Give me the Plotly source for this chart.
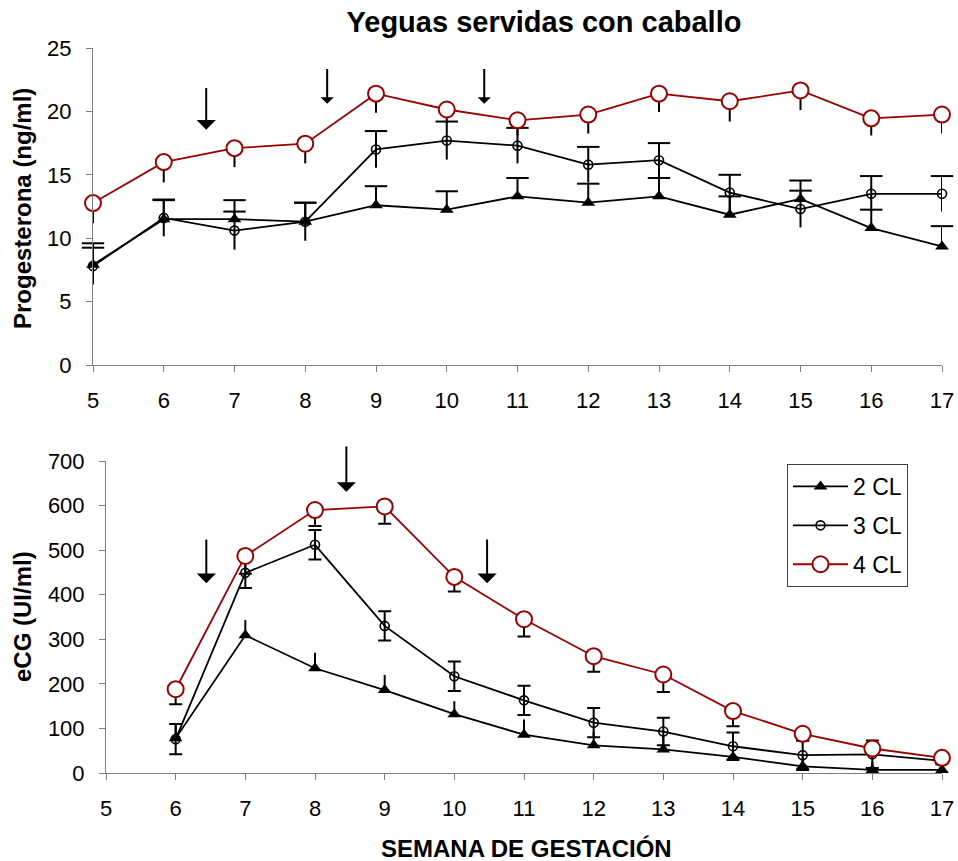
import plotly.graph_objects as go

# Weeks of gestation
weeks_p4 = [5, 6, 7, 8, 9, 10, 11, 12, 13, 14, 15, 16, 17]
weeks_ecg = [6, 7, 8, 9, 10, 11, 12, 13, 14, 15, 16, 17]

# Progesterone (ng/ml), mean and SEM per group
prog_2cl = [7.9, 11.5, 11.5, 11.3, 12.6, 12.25, 13.3, 12.8, 13.3, 11.85, 13.1, 10.8, 9.35]
prog_2cl_err = [1.7, 1.5, 1.5, 1.5, 1.5, 1.45, 1.45, 1.5, 1.45, 1.45, 1.45, 1.45, 1.6]
prog_3cl = [7.8, 11.6, 10.6, 11.3, 17.0, 17.7, 17.3, 15.8, 16.15, 13.6, 12.3, 13.5, 13.5]
prog_3cl_err = [1.45, 1.45, 1.5, 1.5, 1.45, 1.5, 1.4, 1.4, 1.35, 1.4, 1.45, 1.4, 1.4]
prog_4cl = [12.77, 16.0, 17.1, 17.45, 21.4, 20.15, 19.3, 19.75, 21.4, 20.8, 21.65, 19.45, 19.75]
prog_4cl_err = [1.6, 1.6, 1.5, 1.55, 1.5, 1.1, 1.2, 1.5, 1.45, 1.6, 1.55, 1.35, 1.5]

# eCG (UI/ml), mean and SEM per group
ecg_2cl = [78, 309, 235, 186, 132, 86, 62, 53, 36, 15, 7, 7]
ecg_2cl_err = [30, 34, 35, 34, 29, 34, 30, 28, 25, 20, 18, 18]
ecg_3cl = [76, 449, 512, 330, 217, 163, 113, 93, 60, 40, 42, 27]
ecg_3cl_err = [34, 34, 33, 33, 33, 33, 33, 31, 31, 33, 31, 8]
ecg_4cl = [188, 487, 590, 598, 440, 345, 262, 221, 139, 88, 55, 34]
ecg_4cl_err = [34, 40, 36, 39, 33, 39, 35, 39, 34, 15, 12, 6]

# Arrow markers: week position, tail value, tip value, head size
prog_arrows = [(6.6, 21.96, 18.56, 1.6), (8.31, 23.46, 20.6, 1.1), (10.53, 23.46, 20.6, 1.1)]
ecg_arrows = [(6.44, 527, 426, 1.6), (8.45, 736, 631, 1.6), (10.47, 527, 426, 1.6)]

RED = "#990000"
BLACK = "#000000"
FONT = "Liberation Sans, Arial, sans-serif"

styles = {
    "2 CL": dict(color=BLACK, marker=dict(symbol="triangle-up", size=12, color=BLACK,
                                          line=dict(width=0))),
    "3 CL": dict(color=BLACK, marker=dict(symbol="circle-open", size=9, color=BLACK,
                                          line=dict(width=1.6))),
    "4 CL": dict(color=RED, marker=dict(symbol="circle", size=16, color="white",
                                        line=dict(width=2, color=RED))),
}

fig = go.Figure()


def add_caps(x, y, err, sign, xa, ya, width):
    fig.add_trace(go.Scatter(
        x=x, y=[v + sign * e for v, e in zip(y, err)],
        mode="markers", xaxis=xa, yaxis=ya, showlegend=False, hoverinfo="skip",
        cliponaxis=False,
        marker=dict(symbol="line-ew", size=width, line=dict(width=2, color=BLACK)),
    ))


def add_series(name, x, y, plus, minus, xa, ya, cap_w, legend):
    st = styles[name]
    fig.add_trace(go.Scatter(
        x=x, y=y, name=name, mode="lines+markers", xaxis=xa, yaxis=ya,
        showlegend=legend, legendgroup=name, cliponaxis=False,
        line=dict(color=st["color"], width=1.8),
        marker=st["marker"],
        error_y=dict(type="data", symmetric=False, array=plus, arrayminus=minus,
                     width=cap_w, thickness=2, color=BLACK),
    ))


zeros_p = [0] * len(weeks_p4)
zeros_e = [0] * len(weeks_ecg)

# Progesterone panel: upper bars capped for 2 CL / 3 CL
add_caps(weeks_p4, prog_2cl, prog_2cl_err, 1, "x", "y", 16)
add_caps(weeks_p4, prog_3cl, prog_3cl_err, 1, "x", "y", 16)
add_series("2 CL", weeks_p4, prog_2cl, prog_2cl_err, zeros_p, "x", "y", 0, False)
add_series("3 CL", weeks_p4, prog_3cl, prog_3cl_err, prog_3cl_err, "x", "y", 0, False)
add_series("4 CL", weeks_p4, prog_4cl, zeros_p, prog_4cl_err, "x", "y", 0, False)

# eCG panel
add_series("2 CL", weeks_ecg, ecg_2cl, ecg_2cl_err, zeros_e, "x2", "y2", 0, True)
add_series("3 CL", weeks_ecg, ecg_3cl, ecg_3cl_err, ecg_3cl_err, "x2", "y2", 6.5, True)
add_series("4 CL", weeks_ecg, ecg_4cl, zeros_e, ecg_4cl_err, "x2", "y2", 6.5, True)

W, H = 958, 861

axis_common = dict(
    showline=True, linecolor="#7f7f7f", linewidth=1, ticks="outside", ticklen=6,
    tickcolor="#7f7f7f", tickwidth=1, showgrid=False, zeroline=False,
    automargin=False, ticklabelstandoff=10,
    tickfont=dict(family=FONT, size=22, color=BLACK),
)

annotations = []
for xa, ya, arrows in (("x", "y", prog_arrows), ("x2", "y2", ecg_arrows)):
    for wx, tail, tip, size in arrows:
        annotations.append(dict(
            x=wx, y=tip, ax=wx, ay=tail, xref=xa, yref=ya, axref=xa, ayref=ya,
            text="", showarrow=True, arrowhead=1, arrowsize=size, arrowwidth=2,
            arrowcolor=BLACK,
        ))

title_font = dict(family=FONT, size=24, color=BLACK)
annotations += [
    dict(text="<b>Progesterona (ng/ml)</b>", x=22 / W, y=1 - 209 / H, xref="paper",
         yref="paper", xanchor="center", yanchor="middle", showarrow=False,
         textangle=-90, font=title_font),
    dict(text="<b>eCG (UI/ml)</b>", x=22 / W, y=1 - 617 / H, xref="paper",
         yref="paper", xanchor="center", yanchor="middle", showarrow=False,
         textangle=-90, font=title_font),
    dict(text="<b>SEMANA DE GESTACIÓN</b>", x=526 / W, y=1 - 848 / H, xref="paper",
         yref="paper", xanchor="center", yanchor="middle", showarrow=False,
         font=title_font),
]

fig.update_layout(
    width=W, height=H,
    margin=dict(l=0, r=0, t=0, b=0),
    paper_bgcolor="white", plot_bgcolor="white",
    title=dict(text="<b>Yeguas servidas con caballo</b>", x=544 / W, xanchor="center",
               y=1 - 22 / H, yanchor="middle",
               font=dict(family=FONT, size=29, color=BLACK)),
    xaxis=dict(domain=[93 / W, 942 / W], range=[5, 17], dtick=1, anchor="y", **axis_common),
    yaxis=dict(domain=[1 - 365 / H, 1 - 48 / H], range=[0, 25], dtick=5, anchor="x",
               **axis_common),
    xaxis2=dict(domain=[106 / W, 942 / W], range=[5, 17], dtick=1, anchor="y2",
                **axis_common),
    yaxis2=dict(domain=[1 - 773 / H, 1 - 461 / H], range=[0, 700], dtick=100,
                anchor="x2", **axis_common),
    legend=dict(x=787 / W, y=1 - 464 / H, xanchor="left", yanchor="top",
                bordercolor="#404040", borderwidth=1, bgcolor="white", itemwidth=55,
                font=dict(family=FONT, size=23, color=BLACK), tracegroupgap=6),
    annotations=annotations,
    showlegend=True,
)

fig.write_html("out.html")
